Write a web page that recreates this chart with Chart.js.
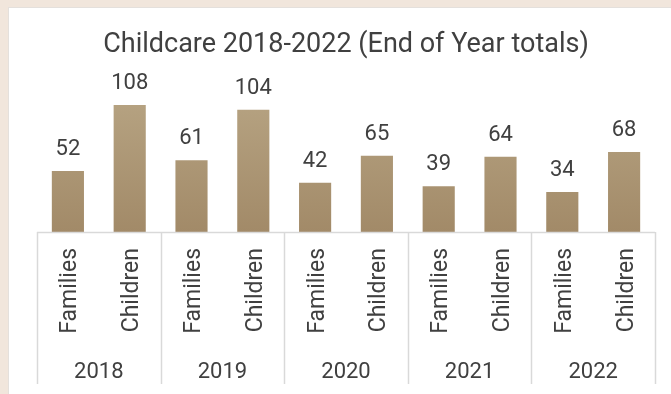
<!DOCTYPE html>
<html><head><meta charset="utf-8">
<script src="https://cdn.jsdelivr.net/npm/chart.js"></script>
<style>
html,body{margin:0;padding:0;background:#f1e6dc;width:671px;height:394px;overflow:hidden;}
#card{position:absolute;left:8px;top:7px;width:700px;height:420px;background:#fff;border-top:1px solid #e4e0dc;border-left:1px solid #e4e0dc;}
#wrap{position:absolute;left:0;top:0;width:671px;height:394px;}
</style></head><body>
<div id="card"></div>
<div id="wrap"><canvas id="c" width="671" height="394"></canvas></div>
<script>
const years = ["2018","2019","2020","2021","2022"];
const subCats = ["Families","Children"];
const families = [52,61,42,39,34];
const children = [108,104,65,64,68];

const labels = [];
const values = [];
years.forEach((y,i)=>{ labels.push(subCats[0]); values.push(families[i]); labels.push(subCats[1]); values.push(children[i]); });

const FONT = "Roboto, 'Open Sans', sans-serif";
const TXT = "#404040";

const overlay = {
  id:'overlay',
  afterDatasetsDraw(chart){
    const ctx = chart.ctx, x = chart.scales.x, ca = chart.chartArea;
    const meta = chart.getDatasetMeta(0);
    ctx.save();
    // value labels
    ctx.fillStyle = TXT; ctx.font = "22px " + FONT;
    ctx.textAlign='center'; ctx.textBaseline='alphabetic';
    meta.data.forEach((b,i)=>{ ctx.fillText(String(values[i]), b.x, b.y - 16); });
    // axis line and separators
    ctx.strokeStyle = "#d9d9d9"; ctx.lineWidth = 1.5;
    ctx.beginPath(); ctx.moveTo(ca.left, ca.bottom+0.5); ctx.lineTo(ca.right, ca.bottom+0.5); ctx.stroke();
    const step = x.getPixelForValue(1) - x.getPixelForValue(0);
    for(let g=0; g<=years.length; g++){
      const px = Math.round(x.getPixelForValue(g*2) - step/2) + 0.5;
      ctx.beginPath(); ctx.moveTo(px, ca.bottom); ctx.lineTo(px, 384); ctx.stroke();
    }
    // rotated sub-category labels
    ctx.font = "23px " + FONT; ctx.fillStyle = TXT;
    labels.forEach((l,i)=>{
      const px = x.getPixelForValue(i);
      ctx.save(); ctx.translate(px + 8.5, ca.bottom + 16); ctx.rotate(-Math.PI/2);
      ctx.textAlign='right'; ctx.textBaseline='alphabetic';
      ctx.fillText(l, 0, 0); ctx.restore();
    });
    // year labels
    ctx.font = "22px " + FONT;
    ctx.textAlign='center'; ctx.textBaseline='alphabetic';
    years.forEach((y,g)=>{
      const px = (x.getPixelForValue(g*2) + x.getPixelForValue(g*2+1))/2;
      ctx.fillText(y, px, 378);
    });
    ctx.restore();
  }
};

new Chart(document.getElementById('c'), {
  type:'bar',
  data:{ labels, datasets:[{ data: values,
    backgroundColor(ctx){
      const ca = ctx.chart.chartArea; if(!ca) return '#ab9674';
      const g = ctx.chart.ctx.createLinearGradient(0, ca.top, 0, ca.bottom);
      g.addColorStop(0,'#b7a483'); g.addColorStop(1,'#a28a68');
      return g;
    },
    borderWidth:0, barPercentage:0.52, categoryPercentage:1.0 }]},
  options:{
    responsive:false, animation:false,
    layout:{ padding:{ left:37, right:16, top:0, bottom:162 } },
    plugins:{ legend:{display:false}, tooltip:{enabled:false},
      title:{ display:true, text:"Childcare 2018-2022 (End of Year totals)", color:TXT,
        font:{ family:FONT, size:27, weight:'normal', lineHeight:1.2 }, padding:{top:29, bottom:29.6} } },
    scales:{
      x:{ display:false },
      y:{ display:false, min:0, max:120 }
    }
  },
  plugins:[overlay]
});
</script>
</body></html>
